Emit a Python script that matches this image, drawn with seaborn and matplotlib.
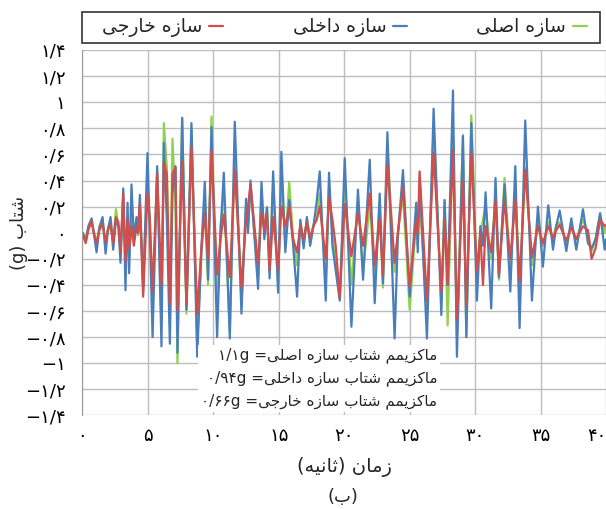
import numpy as np
import pandas as pd
import matplotlib
matplotlib.use("Agg")
import matplotlib.pyplot as plt
from matplotlib.lines import Line2D
from matplotlib.patches import Rectangle
import seaborn as sns

# ---------------- data (turning points) ----------------
t = [0.0, 0.25, 0.45, 0.7, 0.9, 1.08, 1.3, 1.54, 1.77, 1.95, 2.15, 2.35, 2.56, 2.75, 2.91,
     3.12, 3.29, 3.45, 3.57, 3.75, 3.93, 4.13, 4.25, 4.39, 4.64, 4.97, 5.15, 5.36, 5.71,
     6.04, 6.22, 6.45, 6.68, 6.88, 7.11, 7.26, 7.62, 7.95, 8.33, 8.77, 9.1, 9.35, 9.6,
     9.86, 10.29, 10.55, 10.8, 11.26, 11.64, 12.15, 12.5, 12.65, 12.84, 13.42, 13.68,
     13.9, 14.1, 14.3, 14.57, 14.95, 15.2, 15.5, 15.8, 16.1, 16.4, 16.65, 16.9, 17.15,
     17.4, 17.65, 17.9, 18.13, 18.59, 18.84, 19.1, 19.35, 19.66, 20.04, 20.55, 21.05,
     21.44, 21.95, 22.33, 22.71, 22.96, 23.3, 23.85, 24.1, 24.49, 25.0, 25.5, 25.62,
     25.76, 26.32, 26.83, 27.42, 27.67, 27.9, 28.31, 28.61, 29.07, 29.33, 29.71, 30.14,
     30.4, 30.6, 30.8, 31.23, 31.56, 31.82, 32.25, 32.69, 33.07, 33.4, 33.83, 34.34,
     34.8, 35.18, 35.59, 35.95, 36.2, 36.46, 36.97, 37.35, 37.73, 38.24, 38.62, 38.9,
     39.2, 39.55, 39.9, 40.0]

blue = [0.00, -0.07, 0.05, 0.11, -0.02, -0.15, 0.04, 0.12, -0.16, 0.02, 0.12, -0.13, 0.10, 0.05, -0.23,
        0.34, -0.44, 0.23, -0.31, 0.37, -0.05, 0.12, 0.00, 0.29, -0.44, 0.61, 0.00, -0.80, 0.51,
        -0.87, 0.69, 0.10, -0.85, 0.30, 0.51, -0.92, 0.88, -0.59, 0.84, -0.95, -0.10, 0.39, -0.36,
        0.81, -0.80, 0.00, 0.46, -0.81, 0.85, -0.62, 0.26, 0.00, 0.40, -0.43, 0.39,
        -0.05, 0.19, -0.35, 0.47, -0.46, 0.62, -0.15, 0.25, -0.10, -0.49, 0.10, -0.12, 0.12,
        -0.10, 0.05, 0.24, 0.47, -0.52, 0.46, -0.10, -0.29, -0.52, 0.57, -0.72, 0.33,
        -0.36, 0.56, -0.54, 0.30, -0.39, 0.77, -0.81, -0.03, 0.48, -0.49, 0.23, -0.15,
        0.42, -0.81, 0.95, -0.63, 0.25, -0.40, 1.09, -0.95, 0.74, -0.80, 0.84, -0.52,
        0.05, -0.10, 0.31, -0.58, 0.42, -0.34, 0.37, -0.45, 0.51, -0.73, 0.86, -0.52,
        0.20, -0.26, 0.21, -0.13, 0.05, 0.17, -0.14, 0.11, -0.13, 0.18, -0.08, -0.12,
        -0.05, 0.15, -0.13, -0.05]

green = [0.00, -0.04, 0.03, 0.08, 0.00, -0.08, 0.05, 0.10, -0.10, 0.04, 0.09, -0.06, 0.18, 0.05, -0.12,
         0.15, -0.18, 0.10, -0.20, 0.12, -0.05, 0.08, -0.02, 0.15, -0.30, 0.35, 0.10, -0.55, 0.48,
         -0.70, 0.84, 0.50, -0.70, 0.72, 0.20, -1.00, 0.88, -0.62, 0.80, -0.85, -0.15, 0.20, -0.40,
         0.89, -0.60, 0.05, 0.30, -0.75, 0.60, -0.52, 0.20, 0.05, 0.37, -0.35, 0.30,
         0.00, 0.20, -0.25, 0.35, -0.40, 0.45, -0.10, 0.39, -0.05, -0.25, 0.08, -0.08, 0.10,
         -0.05, 0.06, 0.10, 0.30, -0.35, 0.36, 0.00, -0.25, -0.50, 0.40, -0.40, 0.25,
         -0.30, 0.22, -0.30, 0.20, -0.42, 0.65, -0.30, 0.00, 0.30, -0.59, 0.10, -0.10,
         0.30, -0.65, 0.81, -0.50, 0.25, -0.71, 0.75, -0.80, 0.75, -0.80, 0.90, -0.34,
         0.00, 0.10, 0.20, -0.20, 0.30, -0.36, 0.42, -0.30, 0.35, -0.40, 0.50, -0.25,
         0.10, -0.10, 0.08, -0.05, 0.06, 0.08, -0.08, 0.05, -0.05, 0.10, 0.00, -0.14,
         -0.05, 0.14, 0.00, 0.05]

red = [0.00, -0.08, 0.02, 0.09, -0.02, -0.08, 0.02, 0.07, -0.07, 0.02, 0.06, -0.08, 0.12, 0.08, -0.15,
       0.30, -0.22, 0.10, -0.12, 0.05, -0.10, 0.05, 0.00, 0.22, -0.49, 0.30, 0.10, -0.45, 0.45,
       -0.40, 0.54, 0.45, -0.55, 0.45, 0.50, -0.60, 0.55, -0.55, 0.66, -0.62, -0.10, 0.15, -0.20,
       0.63, -0.32, -0.05, 0.14, -0.34, 0.48, -0.42, 0.10, 0.20, 0.37, -0.24, 0.15,
       0.02, 0.15, -0.29, 0.12, -0.28, 0.20, 0.05, 0.20, -0.05, -0.15, 0.06, -0.05, 0.08,
       -0.04, 0.05, 0.10, 0.20, -0.20, 0.27, 0.10, -0.10, -0.50, 0.22, -0.18, 0.15,
       -0.10, 0.30, -0.25, 0.10, -0.33, 0.52, -0.23, 0.00, 0.35, -0.41, 0.10, 0.00,
       0.47, -0.52, 0.61, -0.45, 0.10, -0.40, 0.63, -0.66, 0.40, -0.55, 0.61, -0.30,
       0.00, -0.40, 0.05, -0.15, 0.24, -0.32, 0.25, -0.20, 0.25, -0.37, 0.48, -0.19,
       0.05, -0.08, 0.05, -0.04, 0.02, 0.06, -0.06, 0.04, -0.05, 0.05, 0.02, -0.20,
       -0.12, 0.10, 0.05, 0.06]

series_names = ["سازه اصلی", "سازه داخلی", "سازه خارجی"]
series_colors = ["#8fd14f", "#4a7ebb", "#cf4f4c"]

x_ticks = [0, 5, 10, 15, 20, 25, 30, 35, 40]
x_ticklabels = ["۰", "۵", "۱۰", "۱۵", "۲۰", "۲۵", "۳۰", "۳۵", "۴۰"]
y_ticks = [-1.4, -1.2, -1.0, -0.8, -0.6, -0.4, -0.2, 0.0, 0.2, 0.4, 0.6, 0.8, 1.0, 1.2, 1.4]
y_ticklabels = ["−۱/۴", "−۱/۲", "−۱", "−۰/۸", "−۰/۶", "−۰/۴", "−۰/۲", "۰",
                "۰/۲", "۰/۴", "۰/۶", "۰/۸", "۱", "۱/۲", "۱/۴"]

max_words = ["ماکزیمم شتاب سازه اصلی", "ماکزیمم شتاب سازه داخلی", "ماکزیمم شتاب سازه خارجی"]
max_values = ["۱/۱g", "۰/۹۴g", "۰/۶۶g"]

x_title = ("زمان", "ثانیه")
y_title = ("شتاب", "g")
caption = "ب"

# ---------------- minimal Arabic-script shaping for matplotlib ----------------
FORMS = {
    'ا': ('\uFE8D', '\uFE8E', None, None),
    'ب': ('\uFE8F', '\uFE90', '\uFE91', '\uFE92'),
    'ت': ('\uFE95', '\uFE96', '\uFE97', '\uFE98'),
    'ث': ('\uFE99', '\uFE9A', '\uFE9B', '\uFE9C'),
    'ج': ('\uFE9D', '\uFE9E', '\uFE9F', '\uFEA0'),
    'خ': ('\uFEA5', '\uFEA6', '\uFEA7', '\uFEA8'),
    'د': ('\uFEA9', '\uFEAA', None, None),
    'ر': ('\uFEAD', '\uFEAE', None, None),
    'ز': ('\uFEAF', '\uFEB0', None, None),
    'س': ('\uFEB1', '\uFEB2', '\uFEB3', '\uFEB4'),
    'ش': ('\uFEB5', '\uFEB6', '\uFEB7', '\uFEB8'),
    'ص': ('\uFEB9', '\uFEBA', '\uFEBB', '\uFEBC'),
    'ل': ('\uFEDD', '\uFEDE', '\uFEDF', '\uFEE0'),
    'م': ('\uFEE1', '\uFEE2', '\uFEE3', '\uFEE4'),
    'ن': ('\uFEE5', '\uFEE6', '\uFEE7', '\uFEE8'),
    'ه': ('\uFEE9', '\uFEEA', '\uFEEB', '\uFEEC'),
    'ی': ('\uFBFC', '\uFBFD', '\uFBFE', '\uFBFF'),
    'ک': ('\uFB8E', '\uFB8F', '\uFB90', '\uFB91'),
}


def rtl(s):
    """Shape Persian letters and return the string in visual (left-to-right) order."""
    out = []
    for i, c in enumerate(s):
        if c not in FORMS:
            out.append(c)
            continue
        prev = s[i - 1] if i > 0 else None
        nxt = s[i + 1] if i + 1 < len(s) else None
        jp = prev in FORMS and FORMS[prev][2] is not None
        jn = nxt in FORMS and FORMS[c][2] is not None
        iso, fin, ini, med = FORMS[c]
        if jp and jn:
            out.append(med)
        elif jp:
            out.append(fin)
        elif jn:
            out.append(ini)
        else:
            out.append(iso)
    return "".join(reversed(out))


# ---------------- plot ----------------
sns.set_style("white")
plt.rcParams["font.family"] = ["DejaVu Sans"]

df = pd.concat([
    pd.DataFrame({"t": t, "a": v, "s": name})
    for name, v in zip(series_names, [green, blue, red])
])

fig = plt.figure(figsize=(6.06, 5.09), dpi=100)
ax = fig.add_axes([0.136, 0.1837, 0.864, 0.7181])

sns.lineplot(data=df, x="t", y="a", hue="s", hue_order=series_names,
             palette=series_colors, estimator=None, sort=False,
             linewidth=1.6, legend=False, ax=ax)

ax.set_xlim(0, 40)
ax.set_ylim(-1.4, 1.4)
ax.set_xticks(x_ticks)
ax.set_xticklabels(x_ticklabels, fontsize=13)
ax.set_yticks(y_ticks)
ax.set_yticklabels(y_ticklabels, fontsize=13)
ax.get_xticklabels()[-1].set_horizontalalignment("right")
ax.grid(True, color="#bdbdbd", linewidth=1.0)
ax.set_axisbelow(True)
for side in ["top", "right", "bottom"]:
    ax.spines[side].set_visible(False)
ax.spines["left"].set_color("#9a9a9a")
ax.tick_params(axis="both", which="both", length=5, width=1, color="#9a9a9a",
               direction="out", labelcolor="black")
ax.tick_params(axis="y", pad=7)
ax.tick_params(axis="x", pad=3)

ax.set_xlabel("(" + rtl(x_title[1]) + ") " + rtl(x_title[0]), fontsize=14, labelpad=9)
ax.set_ylabel("(" + y_title[1] + ") " + rtl(y_title[0]), fontsize=13)
ax.yaxis.set_label_coords(-0.104, 0.5)

ann = "\n".join(v + " =" + rtl(w) for w, v in zip(max_words, max_values))
ax.text(27.1, -1.115, ann, ha="right", va="center", multialignment="right",
        fontsize=11, linespacing=1.62, zorder=10,
        bbox=dict(facecolor="white", edgecolor="none", pad=2))

# legend: frame drawn in figure coordinates, entries (text then key) inside it
fig.patches.append(Rectangle((0.1353, 0.9155), 0.855, 0.0609, transform=fig.transFigure,
                             facecolor="white", edgecolor="#333333", linewidth=1.2))
handles = [Line2D([0], [0], color=c, lw=1.6) for c in series_colors]
order = [2, 1, 0]
leg = fig.legend([handles[i] for i in order], [rtl(series_names[i]) for i in order],
                 loc="center right", bbox_to_anchor=(0.968, 0.946),
                 ncol=3, frameon=False, markerfirst=False,
                 fontsize=13.5, handlelength=0.75, handletextpad=0.35,
                 columnspacing=3.7, borderaxespad=0, borderpad=0.0)

fig.text(0.566, 0.024, "(" + rtl(caption) + ")", ha="center", va="center", fontsize=13)

fig.savefig("out.png", dpi=100)
